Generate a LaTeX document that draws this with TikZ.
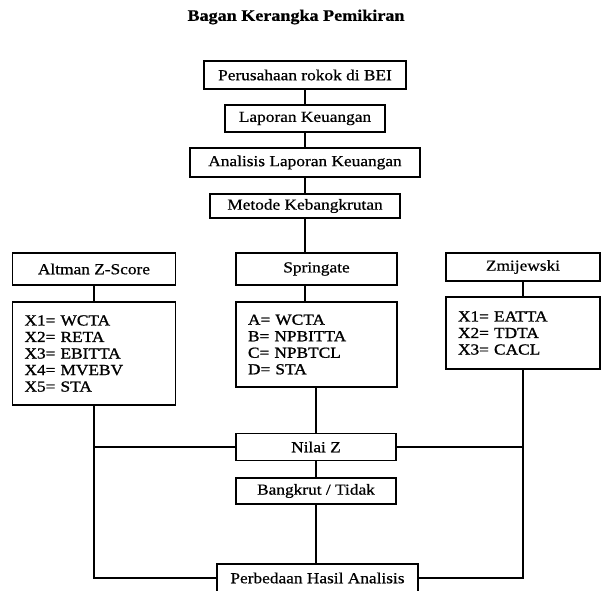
\documentclass[tikz,border=0pt]{standalone}
\usepackage{fontspec}
\setmainfont{Liberation Serif}[FakeStretch=1.13, FakeBold=0.6]
\newfontfamily\listfont{Liberation Serif}[FakeStretch=1.13, FakeBold=1.1]

\begin{document}
\begin{tikzpicture}[x=0.75pt,y=0.75pt,yscale=-1,xscale=1,
	box/.style={draw, line width=0.9pt, inner sep=0pt, font=\fontsize{11.5}{12.4}\selectfont},
	listbox/.style={box, align=left, inner xsep=9pt, font=\fontsize{11.5}{12.4}\listfont},
	line/.style={line width=1.4pt}]
	\useasboundingbox (0,0) rectangle (605,590);
	
	% Text Node
	\draw (296,17) node [font=\fontsize{12}{14}\selectfont\bfseries] (judul) {Bagan Kerangka Pemikiran};
	
	%Shape: Rectangle
	\draw (305,75) node [box, minimum width=151.5pt, minimum height=21pt] (perusahaan) {Perusahaan rokok di BEI};
	%Shape: Rectangle
	\draw (305,118.5) node [box, minimum width=120pt, minimum height=20.25pt] (laporan) {Laporan Keuangan};
	%Shape: Rectangle
	\draw (305,162.5) node [box, minimum width=172.5pt, minimum height=21.75pt] (analisis) {Analisis Laporan Keuangan};
	%Shape: Rectangle
	\draw (305,206) node [box, minimum width=142.5pt, minimum height=18pt] (metode) {Metode Kebangkrutan};
	
	%Shape: Rectangle
	\draw (94,269) node [box, minimum width=122.25pt, minimum height=24pt] (altman) {Altman Z-Score};
	%Shape: Rectangle
	\draw (94,353.5) node [listbox, text width=104.25pt, minimum height=77.25pt] (altmanx) {X1= WCTA\\X2= RETA\\X3= EBITTA\\X4= MVEBV\\X5= STA};
	%Shape: Rectangle
	\draw (316.5,269) node [box, minimum width=120.75pt, minimum height=24pt] (springate) {Springate};
	%Shape: Rectangle
	\draw (316.5,344.5) node [listbox, text width=102.75pt, minimum height=63.75pt] (springatex) {A= WCTA\\B= NPBITTA\\C= NPBTCL\\D= STA};
	%Shape: Rectangle
	\draw (523,267) node [box, minimum width=115.5pt, minimum height=21pt] (zmijewski) {Zmijewski};
	%Shape: Rectangle
	\draw (523,333) node [listbox, text width=97.5pt, minimum height=54pt] (zmijewskix) {X1= EATTA\\X2= TDTA\\X3= CACL};
	
	%Shape: Rectangle
	\draw (316,447) node [box, minimum width=120pt, minimum height=20.25pt] (nilaiz) {Nilai Z};
	%Shape: Rectangle
	\draw (316,491) node [box, minimum width=120pt, minimum height=19.5pt] (bangkrut) {Bangkrut / Tidak};
	%Shape: Rectangle
	\draw (317.5,578) node [box, minimum width=150.75pt, minimum height=21pt] (perbedaan) {Perbedaan Hasil Analisis};
	
	%Straight Lines
	\draw [line] (perusahaan) -- (laporan);
	\draw [line] (laporan) -- (analisis);
	\draw [line] (analisis) -- (metode);
	\draw [line] (metode.south) -- (metode.south |- springate.north);
	\draw [line] (springate.south -| metode.south) -- (springatex.north -| metode.south);
	\draw [line] (springatex.south -| nilaiz.north) -- (nilaiz.north);
	\draw [line] (nilaiz) -- (bangkrut);
	\draw [line] (bangkrut.south) -- (bangkrut.south |- perbedaan.north);
	%Straight Lines
	\draw [line] (altman) -- (altmanx);
	\draw [line] (altmanx.south) |- (perbedaan.west);
	\draw [line] (altmanx.south |- nilaiz.west) -- (nilaiz.west);
	%Straight Lines
	\draw [line] (zmijewski) -- (zmijewskix);
	\draw [line] (zmijewskix.south) |- (perbedaan.east);
	\draw [line] (nilaiz.east) -- (nilaiz.east -| zmijewskix.south);
	
\end{tikzpicture}
\end{document}
